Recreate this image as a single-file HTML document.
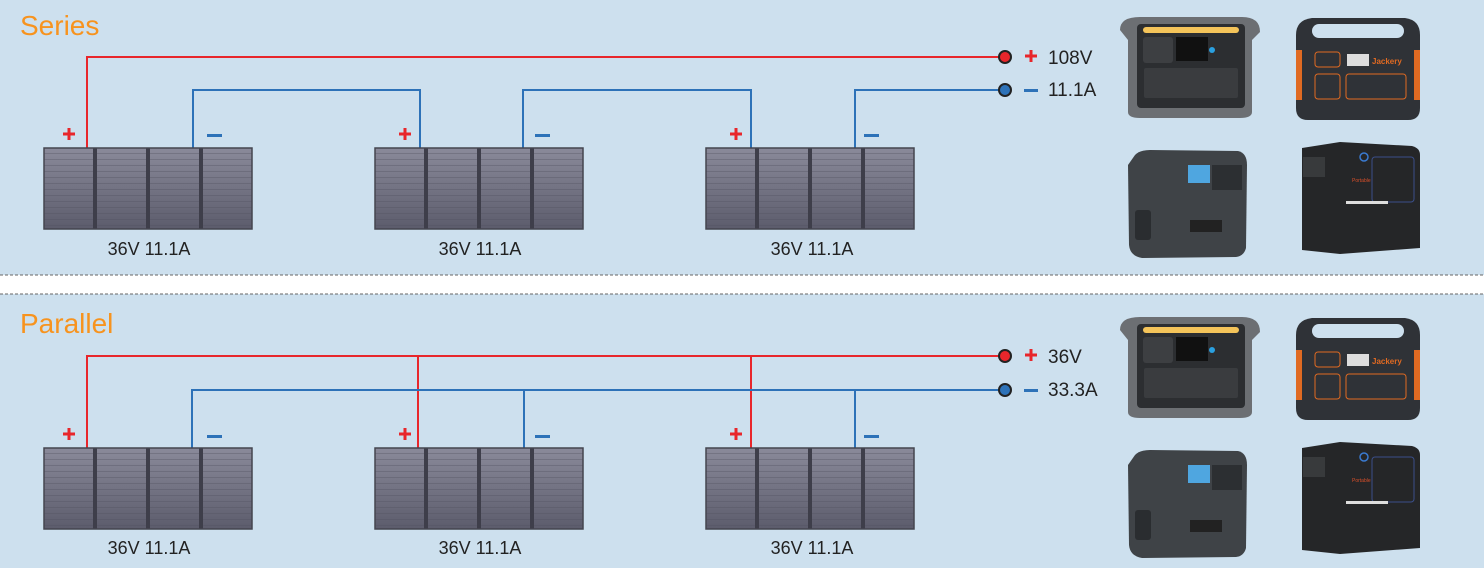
<!DOCTYPE html>
<html><head><meta charset="utf-8"><style>
html,body{margin:0;padding:0;background:#fff}
svg{display:block}
text{font-family:"Liberation Sans",sans-serif}
</style></head><body>
<svg width="1484" height="568" viewBox="0 0 1484 568" xmlns="http://www.w3.org/2000/svg">
<defs>
<linearGradient id="pg" x1="0" y1="0" x2="0" y2="1">
<stop offset="0" stop-color="#8a8a9a"/><stop offset="1" stop-color="#5c5c6c"/></linearGradient>
<pattern id="lines" width="4" height="6" patternUnits="userSpaceOnUse">
<rect width="4" height="6" fill="none"/><rect y="5" width="4" height="1" fill="#50505e" opacity=".35"/></pattern>
<g id="panel">
<rect x="0" y="0" width="208" height="81" fill="url(#pg)"/>
<rect x="0" y="0" width="208" height="81" fill="url(#lines)"/>
<rect x="49" y="0" width="4" height="81" fill="#3e3e4a"/>
<rect x="102" y="0" width="4" height="81" fill="#3e3e4a"/>
<rect x="155" y="0" width="4" height="81" fill="#3e3e4a"/>
<rect x="0" y="0" width="208" height="81" fill="none" stroke="#45454f" stroke-width="1.5"/>
</g>
<g id="plus"><rect x="-6" y="-1.5" width="12" height="3"/><rect x="-1.5" y="-6" width="3" height="12"/></g>
<g id="anker">
<path d="M1120 30 Q1120 17 1140 17 L1242 17 Q1260 17 1260 32 L1252 40 L1252 112 Q1252 118 1240 118 L1140 118 Q1128 118 1128 112 L1128 40 Z" fill="#6c6f73"/>
<rect x="1137" y="24" width="108" height="84" rx="4" fill="#2c2e31"/>
<rect x="1143" y="27" width="96" height="6" rx="3" fill="#f4c45a"/>
<rect x="1143" y="37" width="30" height="26" rx="3" fill="#3d3f42"/>
<rect x="1176" y="37" width="32" height="24" fill="#111"/>
<circle cx="1212" cy="50" r="3" fill="#2aa0e0"/>
<rect x="1144" y="68" width="94" height="30" rx="2" fill="#3a3c3f"/>
</g>
<g id="jack">
<path d="M1296 35 Q1296 20 1312 18 L1405 18 Q1420 20 1420 35 L1420 108 Q1420 120 1408 120 L1308 120 Q1296 120 1296 108 Z" fill="#2f3237"/>
<rect x="1312" y="24" width="92" height="14" rx="7" fill="#cde0ee"/>
<rect x="1296" y="50" width="6" height="50" fill="#e06a22"/>
<rect x="1414" y="50" width="6" height="50" fill="#e06a22"/>
<rect x="1315" y="52" width="25" height="15" rx="3" fill="none" stroke="#e06a22"/>
<rect x="1347" y="54" width="22" height="12" fill="#ddd"/>
<text x="1372" y="64" font-size="8" font-weight="bold" fill="#e06a22">Jackery</text>
<rect x="1315" y="74" width="25" height="25" rx="3" fill="none" stroke="#e06a22"/>
<rect x="1346" y="74" width="60" height="25" rx="3" fill="none" stroke="#e06a22"/>
</g>
<g id="blue">
<path d="M1135 155 Q1140 150 1150 150 L1238 151 Q1247 153 1247 165 L1246 248 Q1244 256 1236 257 L1142 258 Q1130 256 1129 245 L1128 165 Z" fill="#3f4347"/>
<rect x="1188" y="165" width="22" height="18" fill="#4fa6e0"/>
<rect x="1212" y="165" width="30" height="25" fill="#2c2f32"/>
<rect x="1190" y="220" width="32" height="12" fill="#222"/>
<rect x="1135" y="210" width="16" height="30" rx="3" fill="#2a2d30"/>
</g>
<g id="blk">
<path d="M1302 148 L1340 142 L1412 146 Q1420 148 1420 155 L1420 248 L1340 254 L1302 250 Z" fill="#252628"/>
<rect x="1303" y="157" width="22" height="20" fill="#383a3c"/>
<rect x="1372" y="157" width="42" height="45" rx="3" fill="none" stroke="#3a4f8a"/>
<circle cx="1364" cy="157" r="4" fill="none" stroke="#3a7ad0" stroke-width="1.5"/>
<rect x="1346" y="201" width="42" height="3" fill="#ddd"/>
<text x="1352" y="182" font-size="5" fill="#d84f2a">Portable</text>
</g>
</defs>

<rect x="0" y="0" width="1484" height="275" fill="#cde0ee"/>
<rect x="0" y="294" width="1484" height="274" fill="#cde0ee"/>
<line x1="0" y1="275" x2="1484" y2="275" stroke="#666" stroke-dasharray="3,2" stroke-width="1"/>
<line x1="0" y1="294" x2="1484" y2="294" stroke="#666" stroke-dasharray="3,2" stroke-width="1"/>

<text x="20" y="35" font-size="28" fill="#f7931e">Series</text>
<text x="20" y="333" font-size="28" fill="#f7931e">Parallel</text>

<g fill="none" stroke-width="2">
<polyline points="87,148 87,57 1005,57" stroke="#e8262b"/>
<polyline points="193,148 193,90 420,90 420,148" stroke="#2d72b8"/>
<polyline points="523,148 523,90 751,90 751,148" stroke="#2d72b8"/>
<polyline points="855,148 855,90 1005,90" stroke="#2d72b8"/>
<polyline points="87,448 87,356 1005,356" stroke="#e8262b"/>
<line x1="418" y1="356" x2="418" y2="448" stroke="#e8262b"/>
<line x1="751" y1="356" x2="751" y2="448" stroke="#e8262b"/>
<polyline points="192,448 192,390 1005,390" stroke="#2d72b8"/>
<line x1="524" y1="390" x2="524" y2="448" stroke="#2d72b8"/>
<line x1="855" y1="390" x2="855" y2="448" stroke="#2d72b8"/>
</g>
<g stroke="#222" stroke-width="2">
<circle cx="1005" cy="57" r="6" fill="#e8262b"/><circle cx="1005" cy="90" r="6" fill="#2d72b8"/>
<circle cx="1005" cy="356" r="6" fill="#e8262b"/><circle cx="1005" cy="390" r="6" fill="#2d72b8"/>
</g>
<g fill="#e8262b">
<use href="#plus" x="1031" y="56"/><use href="#plus" x="1031" y="355"/>
<use href="#plus" x="69" y="134"/><use href="#plus" x="405" y="134"/><use href="#plus" x="736" y="134"/>
<use href="#plus" x="69" y="434"/><use href="#plus" x="405" y="434"/><use href="#plus" x="736" y="434"/>
</g>
<rect x="1024" y="89" width="14" height="3" fill="#2d72b8"/>
<rect x="1024" y="389" width="14" height="3" fill="#2d72b8"/>
<g font-size="19" fill="#222">
<text x="1048" y="64">108V</text><text x="1048" y="96">11.1A</text>
<text x="1048" y="363">36V</text><text x="1048" y="396">33.3A</text>
</g>

<use href="#panel" x="44" y="148"/><use href="#panel" x="375" y="148"/><use href="#panel" x="706" y="148"/>
<use href="#panel" x="44" y="448"/><use href="#panel" x="375" y="448"/><use href="#panel" x="706" y="448"/>

<g fill="#2d72b8">
<rect x="207" y="134" width="15" height="3"/><rect x="535" y="134" width="15" height="3"/><rect x="864" y="134" width="15" height="3"/>
<rect x="207" y="435" width="15" height="3"/><rect x="535" y="435" width="15" height="3"/><rect x="864" y="435" width="15" height="3"/>
</g>
<g font-size="18" fill="#222" text-anchor="middle">
<text x="149" y="255">36V 11.1A</text><text x="480" y="255">36V 11.1A</text><text x="812" y="255">36V 11.1A</text>
<text x="149" y="554">36V 11.1A</text><text x="480" y="554">36V 11.1A</text><text x="812" y="554">36V 11.1A</text>
</g>

<use href="#anker"/><use href="#jack"/><use href="#blue"/><use href="#blk"/>
<use href="#anker" y="300"/><use href="#jack" y="300"/><use href="#blue" y="300"/><use href="#blk" y="300"/>
</svg>
</body></html>
